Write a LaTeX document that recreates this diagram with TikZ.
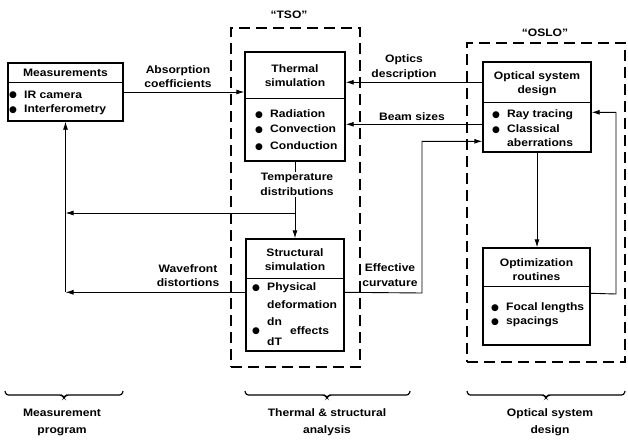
\documentclass[tikz,border=0pt]{standalone}
\usepackage{fontspec}
\setmainfont{Liberation Sans}[FakeStretch=1.12]
\newfontfamily\dvfont{DejaVu Sans}
\usetikzlibrary{arrows.meta,calc}
\newcommand{\bul}{\makebox[15pt][l]{\raisebox{0.6pt}{\dvfont\fontsize{9}{9}\selectfont ●}}}
\begin{document}
\begin{tikzpicture}[x=1pt,y=-1pt,
  every node/.style={font=\fontsize{10.8}{14.5}\selectfont\bfseries, inner sep=0pt},
  box/.style={draw, line width=1.4pt, inner sep=0pt},
  divider/.style={line width=1.4pt},
  grp/.style={draw, line width=1.1pt, dash pattern=on 11pt off 6pt},
  conn/.style={line width=0.9pt},
  arr/.style={conn, -{Latex[length=8pt,width=5pt]}},
  lbl/.style={align=center},
  item/.style={anchor=west},
  brc/.style={line width=1.2pt, rounded corners=2.5pt},
  foot/.style={align=center, font=\fontsize{10.8}{17}\selectfont\bfseries}]
\useasboundingbox (0,0) rectangle (628,441);

% group boxes
\node[grp, minimum width=129pt, minimum height=339pt] (tso) at (295.5,197.5) {};
\node[grp, minimum width=158pt, minimum height=319pt] (oslo) at (546,202.5) {};
\node (tsol) at (289,15) {“TSO”};
\node (oslol) at (545,33) {“OSLO”};

% Measurements
\node[box, minimum width=115pt, minimum height=58pt] (meas) at (65.5,92) {};
\draw[divider] ($(meas.north west)+(0,20)$) -- ($(meas.north east)+(0,20)$);
\node (meash) at (65.5,73) {Measurements};
\node[item] (m1) at (9,95) {\bul IR camera};
\node[item] (m2) at (9,110) {\bul Interferometry};

% Thermal simulation
\node[box, minimum width=100pt, minimum height=109pt] (therm) at (295,106.5) {};
\draw[divider] ($(therm.north west)+(0,47)$) -- ($(therm.north east)+(0,47)$);
\node[lbl] (thermh) at (295,75.5) {Thermal\\simulation};
\node[item] (t1) at (255,114) {\bul Radiation};
\node[item] (t2) at (255,129) {\bul Convection};
\node[item] (t3) at (255,146) {\bul Conduction};

% Structural simulation
\node[box, minimum width=98pt, minimum height=112pt] (struct) at (295,295) {};
\draw[divider] ($(struct.north west)+(0,40)$) -- ($(struct.north east)+(0,40)$);
\node[lbl] (structh) at (295,259.5) {Structural\\simulation};
\node[item] (s1) at (252,288) {\bul Physical};
\node[item] (s2) at (267,305) {deformation};
\node[item] (s3) at (252,331) {\bul};
\node[item] (s4) at (267,322) {dn};
\node[item] (s5) at (267,342) {dT};
\node[item] (s6) at (290,331) {effects};

% Optical system design
\node[box, minimum width=108pt, minimum height=90pt] (osd) at (537,107) {};
\draw[divider] ($(osd.north west)+(0,41)$) -- ($(osd.north east)+(0,41)$);
\node[lbl] (osdh) at (537,83.5) {Optical system\\design};
\node[item] (o1) at (492,115) {\bul Ray tracing};
\node[item] (o2) at (492,129) {\bul Classical};
\node[item] (o3) at (507,143) {aberrations};

% Optimization routines
\node[box, minimum width=107pt, minimum height=97pt] (opt) at (536.5,296.5) {};
\draw[divider] ($(opt.north west)+(0,39)$) -- ($(opt.north east)+(0,39)$);
\node[lbl] (opth) at (536.5,269.5) {Optimization\\routines};
\node[item] (p1) at (491,308) {\bul Focal lengths};
\node[item] (p2) at (491,322) {\bul spacings};

% connectors
\draw[arr] (meas.east) -- (meas.east -| therm.west);
\node[lbl] (absl) at (178,76.5) {Absorption\\coefficients};

\coordinate (od) at ($(osd.north west)+(0,21)$);
\draw[arr] (od) -- (od -| therm.east);
\node[lbl] (optl) at (404,67) {Optics\\description};

\coordinate (bs) at ($(osd.north west)+(0,63)$);
\draw[arr] (bs) -- (bs -| therm.east);
\node (bsl) at (412,117) {Beam sizes};

\draw[arr] (therm.south) -- (struct.north);
\coordinate (td) at (295,213);
\draw[arr] (td) -- (td -| meas.south);
\node[lbl, fill=white, inner sep=1pt] (tdl) at (297,184.5) {Temperature\\distributions};

\coordinate (wf) at ($(struct.north west)+(0,54)$);
\coordinate (wc) at (wf -| meas.south);
\draw[arr] (wf) -- (wc);
\draw[arr] (wc) -- (meas.south);
\node[lbl] (wfl) at (188,275.5) {Wavefront\\distortions};

\coordinate (ec) at ($(struct.north east)+(0,54)$);
\coordinate (ev) at (422,293);
\coordinate (eo) at ($(osd.north west)+(0,80)$);
\draw[arr] (ec) -- (ev) |- (eo);
\node[lbl] (ecl) at (390,275) {Effective\\curvature};

\draw[arr] (osd.south) -- (osd.south |- opt.north);

\coordinate (fo) at ($(opt.north east)+(0,46)$);
\coordinate (fv) at (616,294);
\coordinate (fi) at ($(osd.north east)+(0,51)$);
\draw[arr] (fo) -- (fv) |- (fi);

% bottom braces
\draw[brc] (5,391) -- (6,395) -- (62,395) -- (64,398) -- (66,395) -- (122,395) -- (123,391);
\draw[brc] (245,391) -- (246,395) -- (325,395) -- (327,398) -- (329,395) -- (409,395) -- (410,391);
\draw[brc] (467,391) -- (468,395) -- (544,395) -- (546,398) -- (548,395) -- (624,395) -- (625,391);
\node[foot] (f1) at (62,422) {Measurement\\program};
\node[foot] (f2) at (327,422) {Thermal \& structural\\analysis};
\node[foot] (f3) at (550,422) {Optical system\\design};
\end{tikzpicture}
\end{document}
